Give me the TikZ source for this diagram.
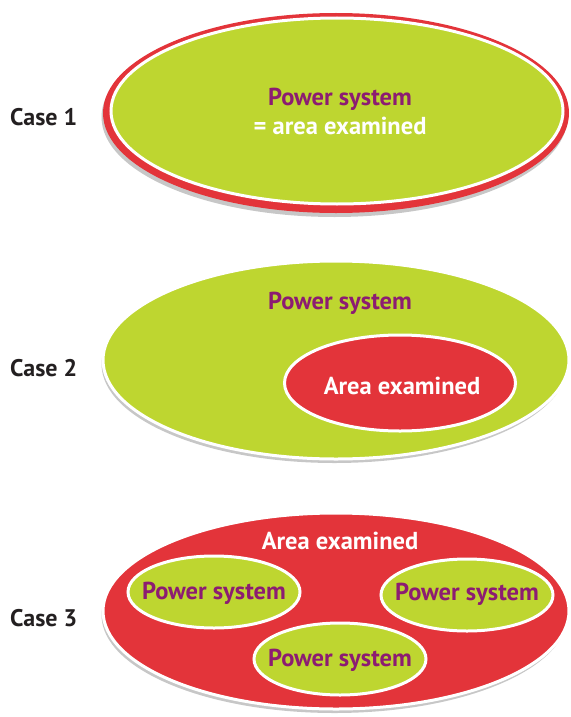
\documentclass[tikz,border=0pt]{standalone}
\usepackage{fontspec}
\setmainfont{PT Sans}
\usetikzlibrary{shapes.geometric,shadows}
\definecolor{lime}{HTML}{BED630}
\definecolor{crimson}{HTML}{E3343A}
\definecolor{plum}{HTML}{8C1C72}
\definecolor{ink}{HTML}{231F20}
\tikzset{
  region/.style={ellipse,inner sep=0pt,outer sep=0pt},
  shade/.style={drop shadow={shadow xshift=-1.5pt,shadow yshift=-4pt,opacity=0.22,fill=black}},
  rim/.style={draw=white,line width=3pt},
  psys/.style={text=plum,inner sep=0pt,font=\bfseries\fontsize{24.5}{28}\selectfont},
  area/.style={text=white,inner sep=0pt,font=\bfseries\fontsize{24.5}{28}\selectfont},
  case/.style={text=ink,anchor=west,inner sep=0pt,font=\bfseries\fontsize{24}{28}\selectfont}
}

\begin{document}
\begin{tikzpicture}[x=1pt,y=-1pt]
  \useasboundingbox (0,0) rectangle (570,717);

  % case 1
  \node[case] (case1) at (10,117) {Case 1};
  \node[region,shade,fill=crimson,minimum width=466pt,minimum height=200pt] (c1red) at (336,113) {};
  \node[region,rim,fill=lime,minimum width=452pt,minimum height=186pt] (c1grn) at (337,111) {};
  \node[psys] (c1sys) at (340,99) {Power system};
  \node[area] (c1area) at (340,126) {= area examined};

  % case 2
  \node[case] (case2) at (10,368) {Case 2};
  \node[region,rim,shade,fill=lime,minimum width=466pt,minimum height=198pt] (c2grn) at (336,360) {};
  \node[psys] (c2sys) at (340,303) {Power system};
  \node[region,rim,fill=crimson,minimum width=231pt,minimum height=96pt] (c2red) at (400,383) {};
  \node[area] (c2area) at (402,386) {Area examined};

  % case 3
  \node[case] (case3) at (10,618) {Case 3};
  \node[region,rim,shade,fill=crimson,minimum width=466pt,minimum height=196pt] (c3red) at (336,611) {};
  \node[area] (c3area) at (340,541) {Area examined};
  \node[region,rim,fill=lime,minimum width=172pt,minimum height=72pt] (c3left) at (214,592) {};
  \node[region,rim,fill=lime,minimum width=172pt,minimum height=72pt] (c3right) at (467,595) {};
  \node[region,rim,fill=lime,minimum width=172pt,minimum height=72pt] (c3low) at (340,659) {};
  \node[psys] (c3sys1) at (214,593) {Power system};
  \node[psys] (c3sys2) at (467,594) {Power system};
  \node[psys] (c3sys3) at (340,660) {Power system};
\end{tikzpicture}
\end{document}
